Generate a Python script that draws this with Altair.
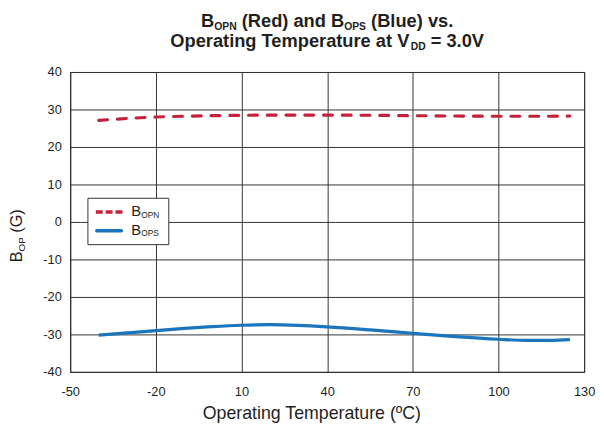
import altair as alt
import pandas as pd

# ---- data ----
temps_opn = [-40, -30, -20, -10, 0, 10, 25, 40, 55, 70, 85, 100, 115, 125]
bopn = [27.1, 27.6, 28.0, 28.2, 28.35, 28.45, 28.5, 28.5, 28.45, 28.35, 28.25, 28.2, 28.2, 28.25]
temps_ops = [-40, -30, -20, -10, 0, 10, 20, 30, 40, 55, 70, 85, 100, 110, 118, 125]
bops = [-30.2, -29.6, -29.0, -28.4, -27.9, -27.55, -27.4, -27.6, -28.0, -28.8, -29.7, -30.6, -31.3, -31.6, -31.6, -31.4]
x_ticks = [-50, -20, 10, 40, 70, 100, 130]
y_ticks = [-40, -30, -20, -10, 0, 10, 20, 30, 40]

RED = "#c4213a"
BLUE = "#1b75bc"
INK = "#231f20"
GRID = "#333333"
FONT = "Liberation Sans"
W, H = 521, 304

df_opn = pd.DataFrame({"temp": temps_opn, "val": bopn})
df_ops = pd.DataFrame({"temp": temps_ops, "val": bops})
one = pd.DataFrame({"k": [0]})

# Arial / Liberation Sans advance widths (em)
BOLD = {" ": .278, "(": .333, ")": .333, ".": .278, "=": .584, "0": .556, "3": .556,
        "B": .722, "O": .778, "P": .667, "N": .722, "S": .667, "D": .722, "V": .667,
        "R": .722, "T": .611, "a": .556, "d": .611, "e": .556, "n": .611, "l": .278,
        "u": .611, "v": .556, "s": .556, "p": .611, "r": .389, "t": .333, "i": .278,
        "g": .611, "m": .889}
REG = {" ": .278, "(": .333, ")": .333, "B": .667, "O": .778, "P": .667, "N": .722,
       "S": .667, "G": .778}


def tw(s, size, table):
    return sum(table[c] for c in s) * size


xs = alt.X("temp:Q", scale=alt.Scale(domain=[-50, 130], nice=False, zero=False),
           axis=alt.Axis(values=x_ticks, title=None, grid=True, ticks=False,
                         labelPadding=14, labelFlush=False, labelOverlap=False,
                         labelExpr="datum.value + ''"))
ys = alt.Y("val:Q", scale=alt.Scale(domain=[-40, 40], nice=False, zero=False),
           axis=alt.Axis(values=y_ticks, title=None, grid=True, ticks=False,
                         labelPadding=9, labelFlush=False, labelOverlap=False,
                         labelExpr="datum.value + ''"))

line_opn = alt.Chart(df_opn).mark_line(
    color=RED, strokeWidth=3.2, strokeDash=[9, 10], strokeCap="round",
    interpolate="monotone").encode(x=xs, y=ys)
line_ops = alt.Chart(df_ops).mark_line(
    color=BLUE, strokeWidth=3.2, interpolate="monotone").encode(x=xs, y=ys)


def txt(s, x, y, size, bold=False, angle=0, align="left"):
    return alt.Chart(one).mark_text(
        text=s, align=align, baseline="alphabetic", fontSize=size,
        fontWeight="bold" if bold else "normal", font=FONT, color=INK,
        angle=angle).encode(x=alt.value(x), y=alt.value(y))


layers = [line_opn, line_ops]

# ---- title with subscripts ----
TS, SS = 18.5, 10.5


def title_line(segs, base_y):
    total = sum(tw(s, SS if sub else TS, BOLD) for s, sub in segs)
    x = W / 2 - total / 2
    out = []
    for s, sub in segs:
        size = SS if sub else TS
        core = s.lstrip(" ")
        lead = tw(s[:len(s) - len(core)], size, BOLD)
        out.append(txt(core, x + lead, base_y + (3 if sub else 0), size, bold=True))
        x += tw(s, size, BOLD)
    return out


layers += title_line([("B", False), ("OPN", True), (" (Red) and B", False),
                      ("OPS", True), (" (Blue) vs.", False)], -46)
layers += title_line([("Operating Temperature at V", False), ("DD", True),
                      (" = 3.0V", False)], -25)

# ---- axis titles ----
layers.append(txt("Operating Temperature (ºC)", 245, H + 48, 18, align="center"))
YS, YSS = 16.5, 10
ysegs = [("B", YS, 0), ("OP", YSS, 3), (" (G)", YS, 0)]
ytotal = sum(tw(s, sz, REG) for s, sz, _ in ysegs)
ypos = 166 + ytotal / 2
for s, sz, off in ysegs:
    core = s.lstrip(" ")
    lead = tw(s[:len(s) - len(core)], sz, REG)
    layers.append(txt(core, -49 + off, ypos - lead, sz, angle=270))
    ypos -= tw(s, sz, REG)

# ---- legend ----
layers.append(alt.Chart(one).mark_rect(fill="white", stroke=GRID, strokeWidth=1).encode(
    x=alt.value(18), x2=alt.value(100), y=alt.value(128), y2=alt.value(175)))
layers.append(alt.Chart(one).mark_rule(color=RED, strokeWidth=3.5, strokeDash=[7, 3]).encode(
    x=alt.value(26), x2=alt.value(53), y=alt.value(142)))
layers.append(alt.Chart(one).mark_rule(color=BLUE, strokeWidth=3.5, strokeCap="round").encode(
    x=alt.value(27), x2=alt.value(52), y=alt.value(161)))
layers.append(txt("B", 62, 146, 15))
layers.append(txt("OPN", 62 + tw("B", 15, REG), 147.5, 8.5))
layers.append(txt("B", 62, 165, 15))
layers.append(txt("OPS", 62 + tw("B", 15, REG), 166.5, 8.5))

chart = alt.layer(*layers).properties(
    width=W, height=H,
    autosize=alt.AutoSizeParams(type="none"),
    padding={"left": 63, "top": 62, "right": 12, "bottom": 55},
).configure_view(stroke=GRID, strokeWidth=1).configure_axis(
    gridColor=GRID, gridOpacity=1, gridWidth=1, domainColor=GRID,
    labelFont=FONT, labelFontSize=13, labelColor=INK,
)

chart.save("out.html", embed_options={"renderer": "svg", "actions": False})
